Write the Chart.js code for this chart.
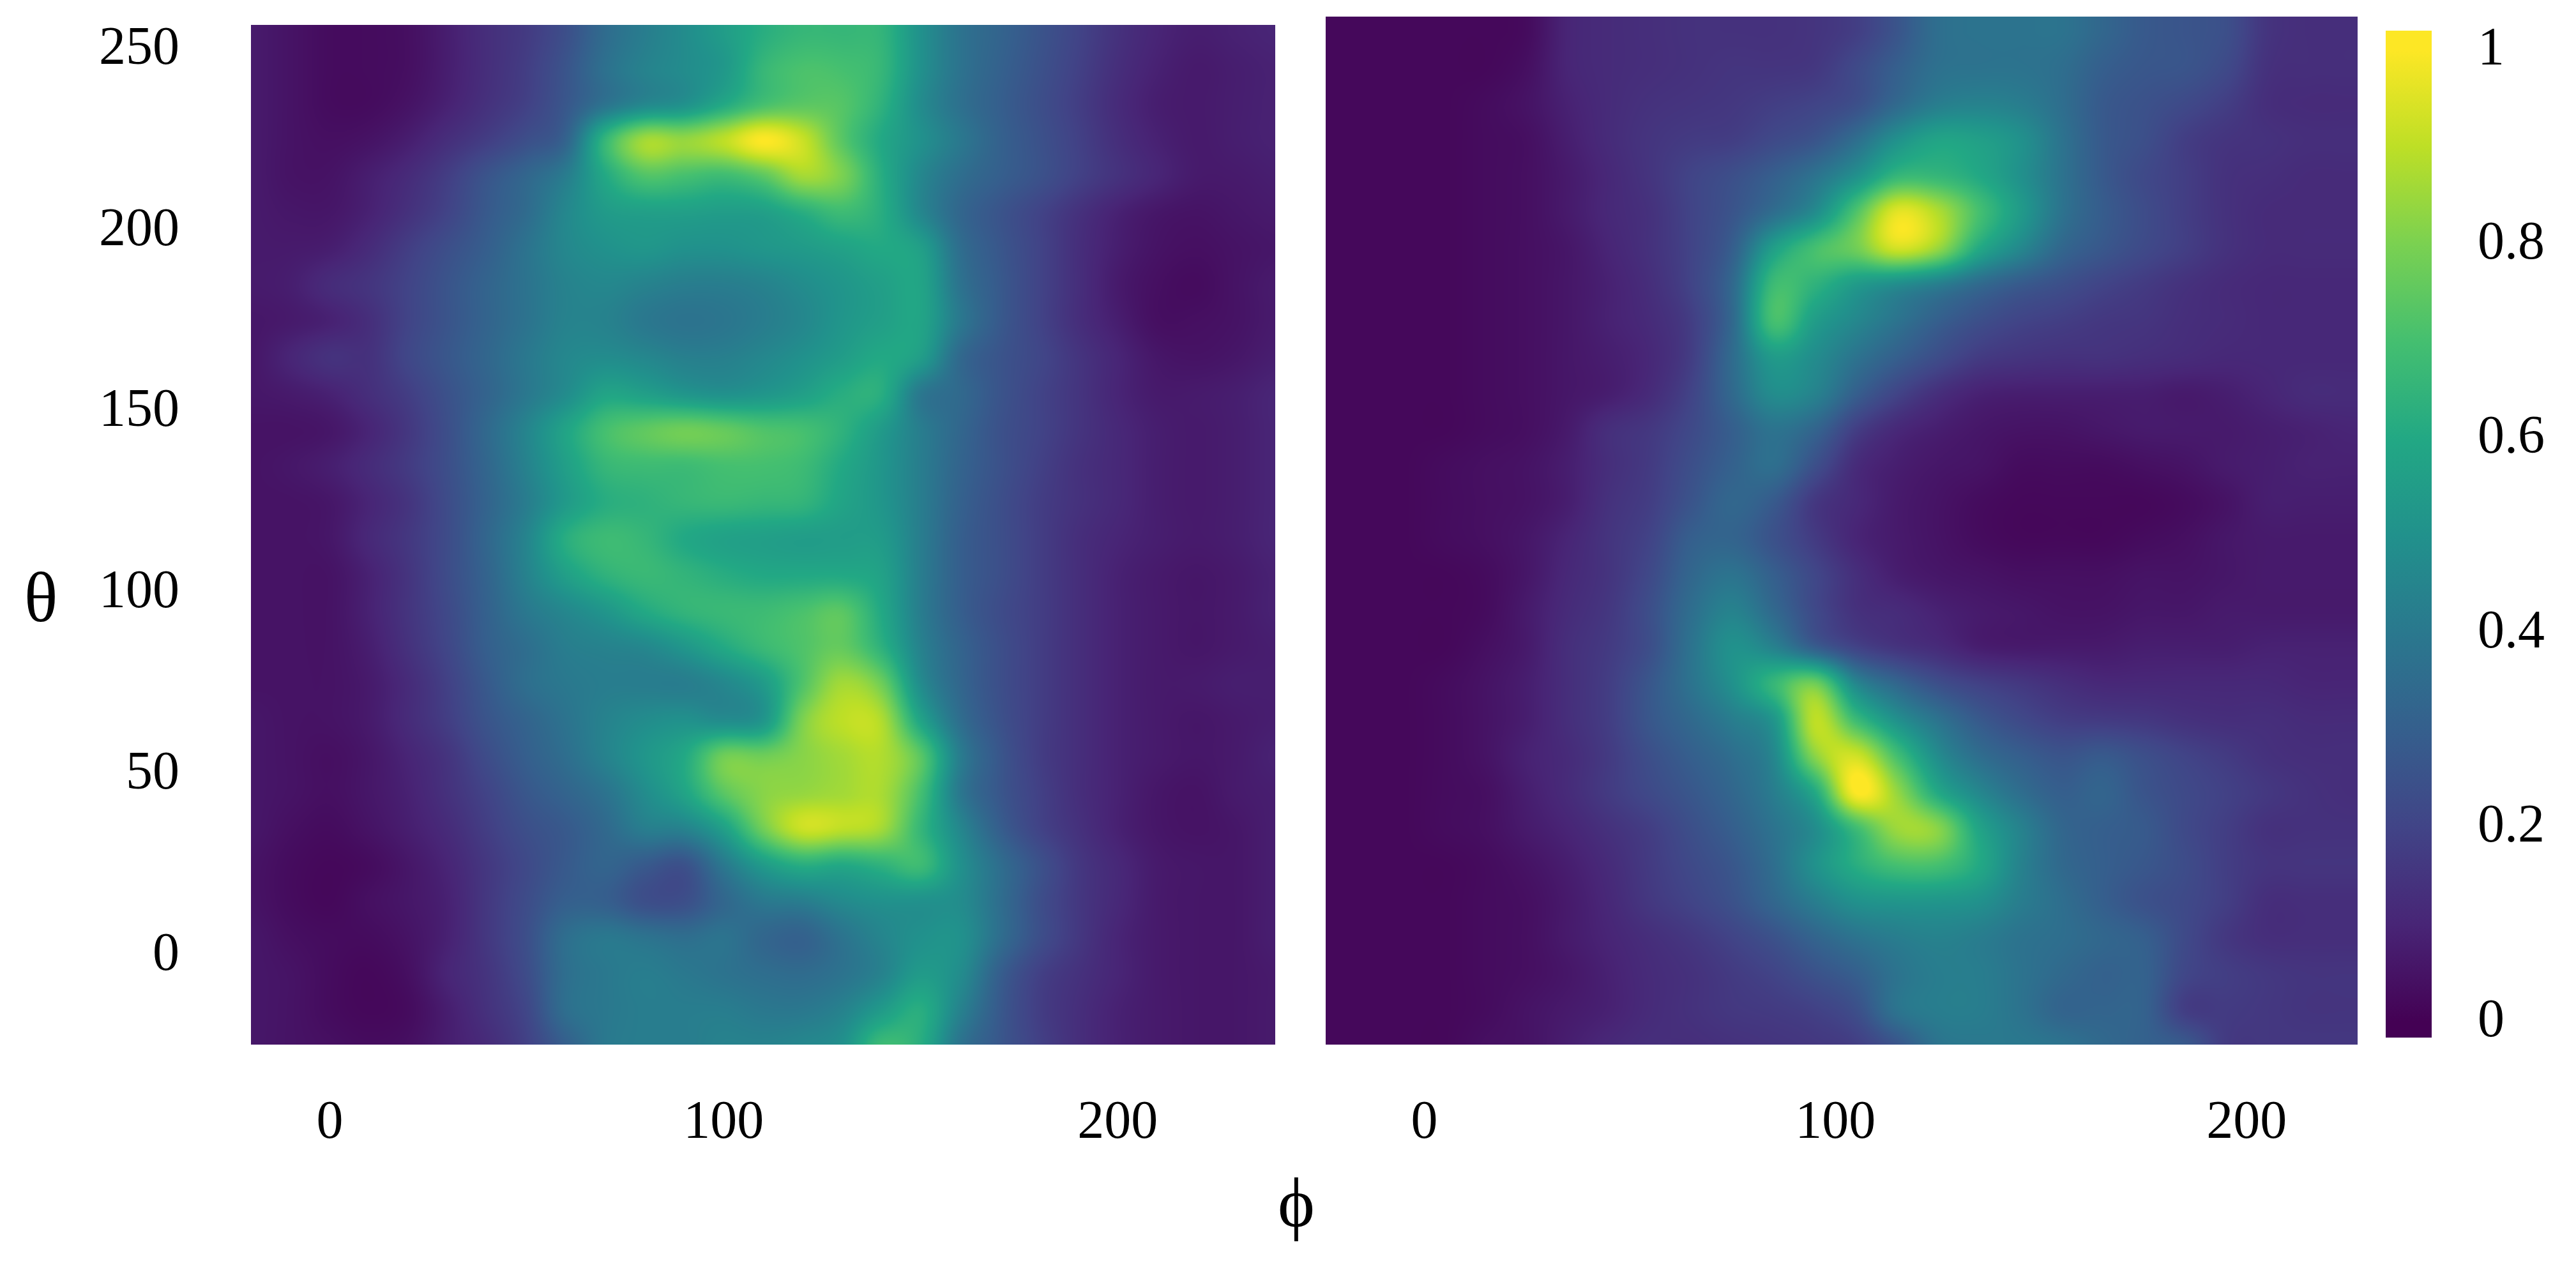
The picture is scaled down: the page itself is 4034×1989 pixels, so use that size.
<!DOCTYPE html>
<html>
<head>
<meta charset="utf-8">
<title>phi theta maps</title>
<script src="https://cdn.jsdelivr.net/npm/chart.js@4"></script>
<style>
  html, body { margin: 0; padding: 0; background: #fff; }
  #page { position: relative; width: 4034px; height: 1989px; overflow: hidden; }
  canvas { position: absolute; top: 0; }
  .axisName { position: absolute; font-family: "Liberation Serif", serif; font-size: 110px; line-height: 110px; color: #000; transform: translate(-50%, -50%); }
</style>
</head>
<body>
<div id="page">
  <canvas id="leftMap" width="2040" height="1989" style="left:0"></canvas>
  <canvas id="rightMap" width="1680" height="1989" style="left:2040px"></canvas>
  <canvas id="colourBar" width="314" height="1989" style="left:3720px"></canvas>
  <div class="axisName" style="left:64px;top:936px">θ</div>
  <div class="axisName" style="left:2030px;top:1884px">ϕ</div>
</div>
<script>
/****************************************************
 * DATA (percent of colour scale)
 ***************************************************/
const thetaRows = [255, 245, 235, 225, 215, 205, 195, 185, 175, 165, 155, 145, 135, 125, 115, 105, 95, 85, 75, 65, 55, 45, 35, 25, 15, 5, -5, -15, -25];
const leftPhi = [-20, -10, 0, 10, 20, 30, 40, 50, 60, 70, 80, 90, 100, 110, 120, 130, 140, 150, 160, 170, 180, 190, 200, 210, 220, 230, 240];
const rightPhi = [-25, -15, -5, 5, 15, 25, 35, 45, 55, 65, 75, 85, 95, 105, 115, 125, 135, 145, 155, 165, 175, 185, 195, 205, 215, 225];

const leftValues = [
  [7,5,3,3,4,8,13,17,24,35,42,48,55,62,66,66,65,50,38,32,26,20,14,10,8,9,10],
  [7,5,3,3,4,8,13,18,26,37,44,48,53,66,71,70,66,50,38,31,25,19,13,9,7,8,9],
  [7,5,3,3,5,9,14,19,27,38,46,50,60,70,74,73,64,48,37,30,24,18,12,8,7,8,9],
  [7,5,4,5,8,13,18,24,32,66,86,84,90,100,92,74,60,50,40,31,25,19,13,9,7,8,9],
  [7,5,5,8,12,18,26,33,42,60,72,70,68,74,86,80,62,46,36,30,25,19,14,10,7,7,8],
  [7,6,6,9,14,20,28,35,46,54,56,56,55,56,62,68,62,46,33,26,20,14,9,6,5,6,7],
  [7,7,8,12,18,24,30,38,46,50,52,50,50,52,54,57,60,56,36,27,20,13,8,5,4,5,6],
  [7,8,12,15,20,26,32,38,44,46,44,42,42,44,48,52,56,58,38,28,20,13,7,4,3,5,7],
  [6,7,9,13,20,26,32,38,44,44,40,38,39,42,46,52,56,58,40,28,20,13,8,4,4,5,7],
  [6,10,14,14,21,27,33,40,46,48,46,43,43,46,50,55,60,55,34,26,21,15,10,6,5,6,8],
  [6,7,9,13,18,25,32,40,48,58,56,52,50,52,56,62,62,40,34,26,20,15,10,7,7,8,10],
  [5,5,6,10,16,24,34,45,58,70,75,78,76,72,70,64,54,42,33,25,20,15,11,8,7,8,10],
  [5,6,8,12,17,24,33,44,56,66,68,68,70,70,68,60,52,42,32,25,19,14,11,8,7,8,10],
  [5,5,6,10,15,23,32,42,54,62,64,66,67,66,65,58,52,42,31,24,18,14,11,8,7,8,10],
  [5,5,6,11,16,23,33,45,62,68,66,60,57,56,55,55,54,42,30,24,18,13,10,8,7,8,10],
  [5,5,5,9,15,23,32,44,56,64,67,65,62,60,60,60,57,42,30,24,18,13,9,7,6,7,9],
  [5,5,5,9,15,22,31,40,46,52,60,65,67,68,71,74,60,42,30,23,18,13,9,7,6,7,9],
  [5,5,5,8,14,21,30,36,42,44,46,52,60,67,72,76,64,44,32,24,18,13,9,7,6,7,8],
  [5,5,5,7,12,19,28,36,40,42,42,42,46,54,72,86,78,48,33,24,18,13,9,7,7,8,8],
  [6,5,5,7,12,18,26,32,38,44,48,50,48,52,80,90,88,58,36,25,18,13,9,7,6,7,8],
  [6,5,4,6,10,15,23,30,36,44,52,60,78,78,82,86,88,74,42,27,18,13,9,7,6,7,9],
  [6,5,4,6,9,14,20,27,32,38,48,58,74,82,84,86,87,70,40,27,19,13,9,6,5,7,8],
  [6,4,3,5,8,12,18,24,28,34,42,44,56,78,92,90,86,66,46,30,20,14,9,6,5,6,8],
  [5,3,2,3,6,10,16,22,28,32,28,25,40,54,62,60,64,68,50,36,25,16,11,7,6,6,8],
  [5,3,2,4,6,9,16,23,30,30,24,24,33,40,42,47,50,50,48,36,24,16,11,7,6,6,8],
  [6,4,3,3,5,9,16,24,36,40,38,36,38,33,31,38,45,50,50,36,24,16,10,7,6,6,8],
  [6,5,3,2,4,10,15,23,36,40,42,40,38,36,35,38,44,54,48,30,19,14,10,7,6,6,7],
  [6,5,3,2,3,8,14,21,36,40,42,42,42,40,40,44,54,62,44,28,18,13,9,7,6,6,7],
  [6,5,4,3,4,8,12,19,30,40,42,42,44,44,46,50,68,62,38,27,19,13,9,7,6,6,7]
];

const rightValues = [
  [2,2,2,2,2,3,10,12,13,14,14,14,15,18,26,36,38,38,38,33,28,26,24,15,13,13],
  [2,2,2,2,2,4,10,12,13,14,15,15,16,22,30,37,38,38,36,30,27,26,22,14,13,13],
  [2,2,2,2,3,5,9,12,14,15,16,18,20,24,34,42,44,42,36,28,25,22,18,13,12,12],
  [2,2,2,2,3,4,8,12,15,17,18,22,26,36,50,58,56,50,38,28,24,18,15,14,13,13],
  [2,2,2,2,3,4,7,11,15,20,24,30,38,50,66,66,60,50,38,28,22,18,14,13,12,12],
  [2,2,2,2,3,4,7,11,14,20,26,36,48,72,96,88,70,54,38,29,23,18,14,12,12,12],
  [2,2,2,2,3,4,6,10,14,20,30,56,70,78,93,84,60,46,33,27,22,18,14,12,12,12],
  [2,2,2,2,3,4,6,9,13,20,34,68,64,54,48,42,34,28,24,20,17,14,12,11,11,11],
  [2,2,2,2,3,4,6,9,12,18,34,70,55,46,38,30,24,20,18,16,15,13,12,11,11,11],
  [2,2,2,2,3,4,6,8,11,18,35,54,48,38,30,23,17,15,14,14,13,12,11,11,11,11],
  [2,2,2,2,3,4,6,8,12,20,34,48,44,30,20,13,9,8,8,8,8,7,8,10,12,12],
  [2,2,2,2,3,4,7,13,16,22,30,38,32,18,11,8,6,5,5,6,7,7,7,8,9,10],
  [2,2,2,3,4,5,8,13,17,24,31,36,24,12,8,6,5,3,3,3,4,5,7,8,9,9],
  [2,2,2,3,4,5,8,14,18,26,33,28,16,11,7,5,3,2,2,2,2,3,5,8,8,8],
  [2,2,2,3,4,6,10,15,20,30,32,25,17,10,7,5,3,2,2,2,3,4,6,7,7,7],
  [2,2,2,2,3,6,11,15,22,33,38,30,21,13,8,6,5,4,4,4,5,5,6,7,7,7],
  [2,2,2,2,3,7,12,16,24,36,44,34,22,14,12,9,7,6,5,5,6,6,7,7,7,7],
  [2,2,2,2,4,7,13,17,24,38,50,44,30,20,15,12,8,7,7,7,8,8,8,9,9,9],
  [2,2,2,3,5,8,13,18,27,38,50,66,78,46,33,24,19,16,13,11,11,11,11,11,10,10],
  [2,2,2,3,5,8,13,18,27,34,42,52,90,68,50,38,28,22,18,17,16,14,13,13,12,12],
  [2,2,2,3,5,9,12,17,24,30,36,46,82,93,70,48,36,30,26,28,24,20,17,14,13,13],
  [2,2,2,3,4,8,12,17,22,27,33,42,60,100,84,60,46,36,30,32,26,22,19,16,14,13],
  [2,2,2,3,4,7,10,14,18,24,30,38,48,68,85,82,58,44,33,30,28,22,18,14,14,14],
  [2,2,2,2,3,5,8,12,17,22,27,36,50,62,70,70,60,44,34,30,27,23,18,15,15,15],
  [2,2,2,2,3,4,7,11,16,20,25,33,42,50,52,52,50,42,36,30,25,22,18,13,13,13],
  [2,2,2,2,3,4,7,10,13,16,20,25,32,38,42,44,42,38,36,33,30,22,16,13,13,13],
  [2,2,2,2,3,4,6,9,12,14,17,20,25,30,38,42,42,38,34,31,31,21,18,16,15,15],
  [2,2,2,2,3,5,7,9,12,14,16,17,19,24,38,42,42,38,32,32,31,18,17,16,15,15],
  [2,2,2,2,4,5,8,11,13,13,14,15,16,18,26,38,40,40,38,34,31,28,17,16,16,16]
];

const phiTicks = [0, 100, 200];
const thetaTicks = [0, 50, 100, 150, 200, 250];
const barTicks = [0, 0.2, 0.4, 0.6, 0.8, 1];
const barRange = [-0.016, 1.02];
const viridis = ['#440154', '#482576', '#414487', '#355f8d', '#2a788e', '#21918c', '#22a884', '#44bf70', '#7ad151', '#bddf26', '#fde725'];

/*******************
 * COLOUR LOOKUP
 ******************/
const viridisRgb = viridis.map(h => [1, 3, 5].map(i => parseInt(h.slice(i, i + 2), 16)));

function colourFor(v) {
    const t = Math.max(0, Math.min(0.9999, v)) * (viridisRgb.length - 1);
    const i = Math.floor(t);
    const f = t - i;
    const a = viridisRgb[i];
    const b = viridisRgb[i + 1];
    return [a[0] + (b[0] - a[0]) * f, a[1] + (b[1] - a[1]) * f, a[2] + (b[2] - a[2]) * f];
}

function cubic(p0, p1, p2, p3, t) {
    return p1 + 0.5 * t * (p2 - p0 + t * (2 * p0 - 5 * p1 + 4 * p2 - p3 + t * (3 * (p1 - p2) + p3 - p0)));
}

// Value of the read grid at a fractional row/column, only used to shade between the cells
function sampleGrid(grid, r, c) {
    const nr = grid.length, nc = grid[0].length;
    const r0 = Math.max(0, Math.min(nr - 1, Math.floor(r)));
    const c0 = Math.max(0, Math.min(nc - 1, Math.floor(c)));
    const tr = Math.max(0, Math.min(1, r - r0));
    const tc = Math.max(0, Math.min(1, c - c0));
    const col = [];
    for (let k = -1; k <= 2; k++) {
        const row = grid[Math.max(0, Math.min(nr - 1, r0 + k))];
        col.push(cubic(
            row[Math.max(0, c0 - 1)], row[c0],
            row[Math.min(nc - 1, c0 + 1)], row[Math.min(nc - 1, c0 + 2)], tc));
    }
    return cubic(col[0], col[1], col[2], col[3], tr);
}

/*******************
 * HEAT FIELD PLUGIN - PAINTS THE GRID THROUGH THE CHART SCALES
 ******************/
const heatField = {
    id: 'heatField',
    beforeDatasetsDraw(chart) {
        const opts = chart.config.options.plugins.heatField;
        if (!opts || !opts.grid) return;
        const area = chart.chartArea;
        const xs = chart.scales.x;
        const ys = chart.scales.y;
        const w = Math.round(area.right - area.left);
        const h = Math.round(area.bottom - area.top);
        const off = document.createElement('canvas');
        off.width = w;
        off.height = h;
        const offCtx = off.getContext('2d');
        const img = offCtx.createImageData(w, h);
        const dPhi = opts.phi[1] - opts.phi[0];
        const dTheta = opts.theta[0] - opts.theta[1];
        let n = 0;
        for (let py = 0; py < h; py++) {
            const r = (opts.theta[0] - ys.getValueForPixel(area.top + py + 0.5)) / dTheta;
            for (let px = 0; px < w; px++) {
                const c = (xs.getValueForPixel(area.left + px + 0.5) - opts.phi[0]) / dPhi;
                const rgb = colourFor(sampleGrid(opts.grid, r, c) / 100);
                img.data[n++] = rgb[0];
                img.data[n++] = rgb[1];
                img.data[n++] = rgb[2];
                img.data[n++] = 255;
            }
        }
        offCtx.putImageData(img, 0, 0);
        chart.ctx.drawImage(off, area.left, area.top);
    }
};
Chart.register(heatField);

/*******************
 * CHART - CREATE ONE MAP PANEL
 ******************/
const tickFont = { family: '"Liberation Serif", serif', size: 84 };

function cellsOf(grid, phi) {
    const cells = [];
    thetaRows.forEach((theta, r) => {
        phi.forEach((p, c) => cells.push({ x: p, y: theta, v: grid[r][c] }));
    });
    return cells;
}

function createMap(id, grid, phi, xRange, yRange, box, showTheta) {
    return new Chart(document.getElementById(id), {
        type: 'scatter',
        data: { datasets: [{ data: cellsOf(grid, phi), pointRadius: 0 }] },
        options: {
            responsive: false,
            animation: false,
            events: [],
            layout: { padding: { left: box.left, right: box.right, top: box.top, bottom: 0 } },
            plugins: {
                legend: { display: false },
                tooltip: { enabled: false },
                heatField: { grid: grid, phi: phi, theta: thetaRows }
            },
            scales: {
                x: {
                    type: 'linear',
                    min: xRange[0],
                    max: xRange[1],
                    grid: { display: false },
                    border: { display: false },
                    afterBuildTicks: scale => { scale.ticks = phiTicks.map(v => ({ value: v })); },
                    afterFit: scale => { scale.height = box.bottom; scale.paddingLeft = 0; scale.paddingRight = 0; },
                    ticks: { font: tickFont, color: '#000', padding: 66, maxRotation: 0, autoSkip: false }
                },
                y: {
                    type: 'linear',
                    display: showTheta,
                    min: yRange[0],
                    max: yRange[1],
                    grid: { display: false },
                    border: { display: false },
                    afterBuildTicks: scale => { scale.ticks = thetaTicks.map(v => ({ value: v })); },
                    afterFit: scale => {
                        if (showTheta) scale.width = box.axis;
                        scale.paddingTop = 0;
                        scale.paddingBottom = 0;
                    },
                    ticks: { font: tickFont, color: '#000', padding: 104, autoSkip: false }
                }
            }
        }
    });
}

createMap('leftMap', leftValues, leftPhi, [-20, 240], [-24.5, 256.8], { left: 0, right: 43, top: 39, bottom: 353, axis: 393 }, true);
createMap('rightMap', rightValues, rightPhi, [-24, 227], [-24.5, 259], { left: 36, right: 28, top: 26, bottom: 353 }, false);

/*******************
 * COLOUR BAR
 ******************/
new Chart(document.getElementById('colourBar'), {
    type: 'bar',
    data: {
        labels: ['scale'],
        datasets: [{
            data: [barRange],
            barPercentage: 1,
            categoryPercentage: 1,
            backgroundColor: function(context) {
                const chart = context.chart;
                if (!chart.chartArea) return viridis[5];
                const y = chart.scales.y;
                const gradient = chart.ctx.createLinearGradient(0, y.getPixelForValue(0), 0, y.getPixelForValue(1));
                viridis.forEach((c, i) => gradient.addColorStop(i / (viridis.length - 1), c));
                return gradient;
            }
        }]
    },
    options: {
        responsive: false,
        animation: false,
        events: [],
        layout: { padding: { left: 16, right: 0, top: 48, bottom: 364 } },
        plugins: { legend: { display: false }, tooltip: { enabled: false } },
        scales: {
            x: { display: false },
            y: {
                position: 'right',
                min: barRange[0],
                max: barRange[1],
                grid: { display: false },
                border: { display: false },
                afterBuildTicks: scale => { scale.ticks = barTicks.map(v => ({ value: v })); },
                afterFit: scale => { scale.width = 226; scale.paddingTop = 0; scale.paddingBottom = 0; },
                ticks: { font: tickFont, color: '#000', padding: 64, autoSkip: false, callback: v => String(v) }
            }
        }
    }
});
</script>
</body>
</html>
